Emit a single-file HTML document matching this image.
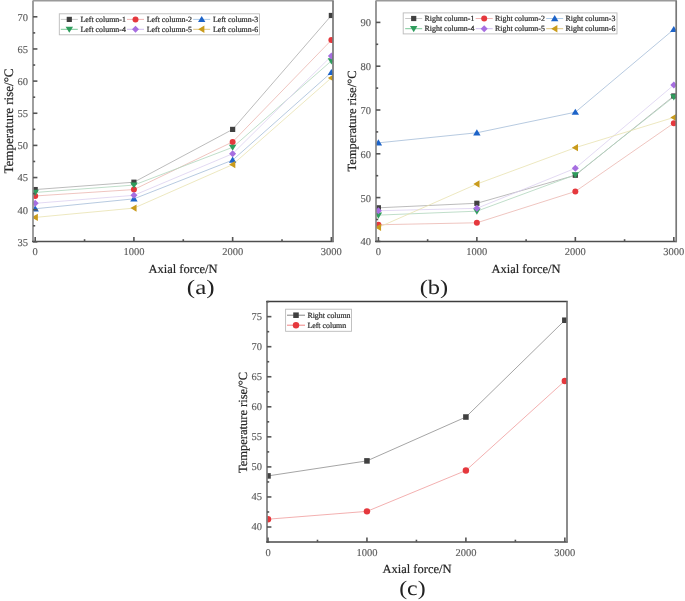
<!DOCTYPE html><html><head><meta charset="utf-8"><style>html,body{margin:0;padding:0;background:#fff;width:685px;height:601px;overflow:hidden}svg{display:block;will-change:transform}text{font-family:"Liberation Serif", serif;text-rendering:geometricPrecision}</style></head><body>
<svg width="685" height="601" viewBox="0 0 685 601">
<defs><filter id="bl" x="0" y="0" width="1" height="1"><feGaussianBlur stdDeviation="0.4"/></filter></defs>
<rect width="685" height="601" fill="#fff"/>
<g filter="url(#bl)">
<rect width="685" height="601" fill="#fff"/>
<clipPath id="ca"><rect x="33" y="0.7" width="300" height="240.7"/></clipPath>
<g clip-path="url(#ca)">
<polyline points="35.2,189.56 133.92,182.2 232.64,129.4 331.36,15.48" fill="none" stroke="#ababab" stroke-width="0.8"/>
<polyline points="35.2,195.96 133.92,189.56 232.64,141.88 331.36,40.12" fill="none" stroke="#ebb6b0" stroke-width="0.8"/>
<polyline points="35.2,208.76 133.92,198.84 232.64,160.12 331.36,72.44" fill="none" stroke="#a4bcd8" stroke-width="0.8"/>
<polyline points="35.2,192.44 133.92,185.08 232.64,147.32 331.36,60.92" fill="none" stroke="#b0d6bc" stroke-width="0.8"/>
<polyline points="35.2,203.32 133.92,195.32 232.64,153.72 331.36,56.12" fill="none" stroke="#dcd0f0" stroke-width="0.8"/>
<polyline points="35.2,217.4 133.92,208.12 232.64,164.6 331.36,77.88" fill="none" stroke="#e8e2b0" stroke-width="0.8"/>
<rect x="32.6" y="186.96" width="5.2" height="5.2" fill="#414141"/>
<rect x="131.32" y="179.6" width="5.2" height="5.2" fill="#414141"/>
<rect x="230.04" y="126.8" width="5.2" height="5.2" fill="#414141"/>
<rect x="328.76" y="12.88" width="5.2" height="5.2" fill="#414141"/>
<circle cx="35.2" cy="195.96" r="3" fill="#e5393e"/>
<circle cx="133.92" cy="189.56" r="3" fill="#e5393e"/>
<circle cx="232.64" cy="141.88" r="3" fill="#e5393e"/>
<circle cx="331.36" cy="40.12" r="3" fill="#e5393e"/>
<polygon points="35.2,205.25 38.9,211.42 31.5,211.42" fill="#1f64c8"/>
<polygon points="133.92,195.33 137.62,201.5 130.22,201.5" fill="#1f64c8"/>
<polygon points="232.64,156.6 236.34,162.78 228.94,162.78" fill="#1f64c8"/>
<polygon points="331.36,68.92 335.06,75.1 327.66,75.1" fill="#1f64c8"/>
<polygon points="35.2,195.95 38.9,189.78 31.5,189.78" fill="#2f9d5d"/>
<polygon points="133.92,188.59 137.62,182.42 130.22,182.42" fill="#2f9d5d"/>
<polygon points="232.64,150.83 236.34,144.66 228.94,144.66" fill="#2f9d5d"/>
<polygon points="331.36,64.43 335.06,58.26 327.66,58.26" fill="#2f9d5d"/>
<polygon points="35.2,199.82 38.7,203.32 35.2,206.82 31.7,203.32" fill="#a66ee0"/>
<polygon points="133.92,191.82 137.42,195.32 133.92,198.82 130.42,195.32" fill="#a66ee0"/>
<polygon points="232.64,150.22 236.14,153.72 232.64,157.22 229.14,153.72" fill="#a66ee0"/>
<polygon points="331.36,52.62 334.86,56.12 331.36,59.62 327.86,56.12" fill="#a66ee0"/>
<polygon points="31.69,217.4 37.86,213.7 37.86,221.1" fill="#c99b1c"/>
<polygon points="130.41,208.12 136.58,204.42 136.58,211.82" fill="#c99b1c"/>
<polygon points="229.12,164.6 235.3,160.9 235.3,168.3" fill="#c99b1c"/>
<polygon points="327.85,77.88 334.02,74.18 334.02,81.58" fill="#c99b1c"/>
</g>
<line x1="33" y1="0.5" x2="33" y2="242.1" stroke="#8e8e8e" stroke-width="1.7"/>
<line x1="32" y1="241.4" x2="333.7" y2="241.4" stroke="#505050" stroke-width="1.5"/>
<line x1="33" y1="0.7" x2="333.7" y2="0.7" stroke="#9a9a9a" stroke-width="1.6"/>
<line x1="333" y1="0.7" x2="333" y2="242.1" stroke="#787878" stroke-width="1.7"/>
<line x1="33" y1="241.85" x2="37.4" y2="241.85" stroke="#555" stroke-width="1.6"/>
<line x1="33" y1="209.7" x2="37.4" y2="209.7" stroke="#555" stroke-width="1.6"/>
<line x1="33" y1="177.55" x2="37.4" y2="177.55" stroke="#555" stroke-width="1.6"/>
<line x1="33" y1="145.4" x2="37.4" y2="145.4" stroke="#555" stroke-width="1.6"/>
<line x1="33" y1="113.25" x2="37.4" y2="113.25" stroke="#555" stroke-width="1.6"/>
<line x1="33" y1="81.1" x2="37.4" y2="81.1" stroke="#555" stroke-width="1.6"/>
<line x1="33" y1="48.95" x2="37.4" y2="48.95" stroke="#555" stroke-width="1.6"/>
<line x1="33" y1="16.8" x2="37.4" y2="16.8" stroke="#555" stroke-width="1.6"/>
<line x1="33" y1="225.78" x2="35.2" y2="225.78" stroke="#555" stroke-width="1.6"/>
<line x1="33" y1="193.62" x2="35.2" y2="193.62" stroke="#555" stroke-width="1.6"/>
<line x1="33" y1="161.47" x2="35.2" y2="161.47" stroke="#555" stroke-width="1.6"/>
<line x1="33" y1="129.33" x2="35.2" y2="129.33" stroke="#555" stroke-width="1.6"/>
<line x1="33" y1="97.18" x2="35.2" y2="97.18" stroke="#555" stroke-width="1.6"/>
<line x1="33" y1="65.03" x2="35.2" y2="65.03" stroke="#555" stroke-width="1.6"/>
<line x1="33" y1="32.88" x2="35.2" y2="32.88" stroke="#555" stroke-width="1.6"/>
<line x1="35.2" y1="241.4" x2="35.2" y2="237" stroke="#555" stroke-width="1.6"/>
<line x1="133.92" y1="241.4" x2="133.92" y2="237" stroke="#555" stroke-width="1.6"/>
<line x1="232.64" y1="241.4" x2="232.64" y2="237" stroke="#555" stroke-width="1.6"/>
<line x1="331.36" y1="241.4" x2="331.36" y2="237" stroke="#555" stroke-width="1.6"/>
<line x1="84.56" y1="241.4" x2="84.56" y2="239.2" stroke="#555" stroke-width="1.6"/>
<line x1="183.28" y1="241.4" x2="183.28" y2="239.2" stroke="#555" stroke-width="1.6"/>
<line x1="282" y1="241.4" x2="282" y2="239.2" stroke="#555" stroke-width="1.6"/>
<text x="28" y="245.75" text-anchor="end" font-size="10.5" fill="#5c5c5c" stroke="#5c5c5c" stroke-width="0.15">35</text>
<text x="28" y="213.6" text-anchor="end" font-size="10.5" fill="#5c5c5c" stroke="#5c5c5c" stroke-width="0.15">40</text>
<text x="28" y="181.45" text-anchor="end" font-size="10.5" fill="#5c5c5c" stroke="#5c5c5c" stroke-width="0.15">45</text>
<text x="28" y="149.3" text-anchor="end" font-size="10.5" fill="#5c5c5c" stroke="#5c5c5c" stroke-width="0.15">50</text>
<text x="28" y="117.15" text-anchor="end" font-size="10.5" fill="#5c5c5c" stroke="#5c5c5c" stroke-width="0.15">55</text>
<text x="28" y="85" text-anchor="end" font-size="10.5" fill="#5c5c5c" stroke="#5c5c5c" stroke-width="0.15">60</text>
<text x="28" y="52.85" text-anchor="end" font-size="10.5" fill="#5c5c5c" stroke="#5c5c5c" stroke-width="0.15">65</text>
<text x="28" y="20.7" text-anchor="end" font-size="10.5" fill="#5c5c5c" stroke="#5c5c5c" stroke-width="0.15">70</text>
<text x="35.2" y="255.3" text-anchor="middle" font-size="10.5" fill="#5c5c5c" stroke="#5c5c5c" stroke-width="0.15">0</text>
<text x="133.92" y="255.3" text-anchor="middle" font-size="10.5" fill="#5c5c5c" stroke="#5c5c5c" stroke-width="0.15">1000</text>
<text x="232.64" y="255.3" text-anchor="middle" font-size="10.5" fill="#5c5c5c" stroke="#5c5c5c" stroke-width="0.15">2000</text>
<text x="331.36" y="255.3" text-anchor="middle" font-size="10.5" fill="#5c5c5c" stroke="#5c5c5c" stroke-width="0.15">3000</text>
<text transform="translate(12.6,121) rotate(-90)" text-anchor="middle" font-size="13" fill="#262626" stroke="#262626" stroke-width="0.2">Temperature rise/°C</text>
<text x="183" y="272.6" text-anchor="middle" font-size="12.5" fill="#262626" stroke="#262626" stroke-width="0.2">Axial force/N</text>
<rect x="59.3" y="13.8" width="200.2" height="21" fill="#fff" stroke="#bbb" stroke-width="0.9"/>
<line x1="60.8" y1="19.4" x2="77.8" y2="19.4" stroke="#c2c2c2" stroke-width="0.9"/>
<rect x="66.7" y="16.8" width="5.2" height="5.2" fill="#414141"/>
<text x="80.5" y="22.1" font-size="7.9" fill="#303030" stroke="#303030" stroke-width="0.22">Left column-1</text>
<line x1="127" y1="19.4" x2="144" y2="19.4" stroke="#f0aaaa" stroke-width="0.9"/>
<circle cx="135.5" cy="19.4" r="3" fill="#e5393e"/>
<text x="146.7" y="22.1" font-size="7.9" fill="#303030" stroke="#303030" stroke-width="0.22">Left column-2</text>
<line x1="193.2" y1="19.4" x2="210.2" y2="19.4" stroke="#a6c6e6" stroke-width="0.9"/>
<polygon points="201.7,15.88 205.4,22.06 198,22.06" fill="#1f64c8"/>
<text x="212.9" y="22.1" font-size="7.9" fill="#303030" stroke="#303030" stroke-width="0.22">Left column-3</text>
<line x1="60.8" y1="29.3" x2="77.8" y2="29.3" stroke="#6cc28c" stroke-width="0.9"/>
<polygon points="69.3,32.81 73,26.64 65.6,26.64" fill="#2f9d5d"/>
<text x="80.5" y="32" font-size="7.9" fill="#303030" stroke="#303030" stroke-width="0.22">Left column-4</text>
<line x1="127" y1="29.3" x2="144" y2="29.3" stroke="#cbb4ee" stroke-width="0.9"/>
<polygon points="135.5,25.8 139,29.3 135.5,32.8 132,29.3" fill="#a66ee0"/>
<text x="146.7" y="32" font-size="7.9" fill="#303030" stroke="#303030" stroke-width="0.22">Left column-5</text>
<line x1="193.2" y1="29.3" x2="210.2" y2="29.3" stroke="#dcc070" stroke-width="0.9"/>
<polygon points="198.19,29.3 204.36,25.6 204.36,33" fill="#c99b1c"/>
<text x="212.9" y="32" font-size="7.9" fill="#303030" stroke="#303030" stroke-width="0.22">Left column-6</text>
<text transform="translate(200.7,294.4) scale(1.22,1)" text-anchor="middle" font-size="20.5" fill="#222" style="font-family:"Liberation Sans", sans-serif">(a)</text>
<clipPath id="cb"><rect x="376" y="0.7" width="300.2" height="240.7"/></clipPath>
<g clip-path="url(#cb)">
<polyline points="378.4,207.81 476.87,203.29 575.34,175.26 673.81,95.98" fill="none" stroke="#ababab" stroke-width="0.8"/>
<polyline points="378.4,224.76 476.87,222.78 575.34,191.47 673.81,123.14" fill="none" stroke="#ebb6b0" stroke-width="0.8"/>
<polyline points="378.4,142.85 476.87,132.78 575.34,112.19 673.81,29.41" fill="none" stroke="#a4bcd8" stroke-width="0.8"/>
<polyline points="378.4,215.12 476.87,211.18 575.34,174.82 673.81,96.86" fill="none" stroke="#b0d6bc" stroke-width="0.8"/>
<polyline points="378.4,210.74 476.87,208.33 575.34,168.25 673.81,85.03" fill="none" stroke="#dcd0f0" stroke-width="0.8"/>
<polyline points="378.4,227.38 476.87,184.02 575.34,147.67 673.81,117.45" fill="none" stroke="#e8e2b0" stroke-width="0.8"/>
<rect x="375.8" y="205.21" width="5.2" height="5.2" fill="#414141"/>
<rect x="474.27" y="200.69" width="5.2" height="5.2" fill="#414141"/>
<rect x="572.74" y="172.66" width="5.2" height="5.2" fill="#414141"/>
<rect x="671.21" y="93.38" width="5.2" height="5.2" fill="#414141"/>
<circle cx="378.4" cy="224.76" r="3" fill="#e5393e"/>
<circle cx="476.87" cy="222.78" r="3" fill="#e5393e"/>
<circle cx="575.34" cy="191.47" r="3" fill="#e5393e"/>
<circle cx="673.81" cy="123.14" r="3" fill="#e5393e"/>
<polygon points="378.4,139.34 382.1,145.51 374.7,145.51" fill="#1f64c8"/>
<polygon points="476.87,129.26 480.57,135.44 473.17,135.44" fill="#1f64c8"/>
<polygon points="575.34,108.67 579.04,114.85 571.64,114.85" fill="#1f64c8"/>
<polygon points="673.81,25.89 677.51,32.07 670.11,32.07" fill="#1f64c8"/>
<polygon points="378.4,218.63 382.1,212.46 374.7,212.46" fill="#2f9d5d"/>
<polygon points="476.87,214.69 480.57,208.51 473.17,208.51" fill="#2f9d5d"/>
<polygon points="575.34,178.34 579.04,172.16 571.64,172.16" fill="#2f9d5d"/>
<polygon points="673.81,100.38 677.51,94.2 670.11,94.2" fill="#2f9d5d"/>
<polygon points="378.4,207.24 381.9,210.74 378.4,214.24 374.9,210.74" fill="#a66ee0"/>
<polygon points="476.87,204.83 480.37,208.33 476.87,211.83 473.37,208.33" fill="#a66ee0"/>
<polygon points="575.34,164.75 578.84,168.25 575.34,171.75 571.84,168.25" fill="#a66ee0"/>
<polygon points="673.81,81.53 677.31,85.03 673.81,88.53 670.31,85.03" fill="#a66ee0"/>
<polygon points="374.88,227.38 381.06,223.68 381.06,231.08" fill="#c99b1c"/>
<polygon points="473.36,184.02 479.53,180.32 479.53,187.72" fill="#c99b1c"/>
<polygon points="571.82,147.67 578,143.97 578,151.37" fill="#c99b1c"/>
<polygon points="670.29,117.45 676.47,113.75 676.47,121.15" fill="#c99b1c"/>
</g>
<line x1="376" y1="0.5" x2="376" y2="242.1" stroke="#888" stroke-width="1.7"/>
<line x1="375" y1="241.4" x2="676.9" y2="241.4" stroke="#505050" stroke-width="1.5"/>
<line x1="376" y1="0.7" x2="676.9" y2="0.7" stroke="#9a9a9a" stroke-width="1.6"/>
<line x1="676.2" y1="0.7" x2="676.2" y2="242.1" stroke="#787878" stroke-width="1.7"/>
<line x1="376" y1="241.4" x2="380.4" y2="241.4" stroke="#555" stroke-width="1.6"/>
<line x1="376" y1="197.6" x2="380.4" y2="197.6" stroke="#555" stroke-width="1.6"/>
<line x1="376" y1="153.8" x2="380.4" y2="153.8" stroke="#555" stroke-width="1.6"/>
<line x1="376" y1="110" x2="380.4" y2="110" stroke="#555" stroke-width="1.6"/>
<line x1="376" y1="66.2" x2="380.4" y2="66.2" stroke="#555" stroke-width="1.6"/>
<line x1="376" y1="22.4" x2="380.4" y2="22.4" stroke="#555" stroke-width="1.6"/>
<line x1="376" y1="219.5" x2="378.2" y2="219.5" stroke="#555" stroke-width="1.6"/>
<line x1="376" y1="175.7" x2="378.2" y2="175.7" stroke="#555" stroke-width="1.6"/>
<line x1="376" y1="131.9" x2="378.2" y2="131.9" stroke="#555" stroke-width="1.6"/>
<line x1="376" y1="88.1" x2="378.2" y2="88.1" stroke="#555" stroke-width="1.6"/>
<line x1="376" y1="44.3" x2="378.2" y2="44.3" stroke="#555" stroke-width="1.6"/>
<line x1="378.4" y1="241.4" x2="378.4" y2="237" stroke="#555" stroke-width="1.6"/>
<line x1="476.87" y1="241.4" x2="476.87" y2="237" stroke="#555" stroke-width="1.6"/>
<line x1="575.34" y1="241.4" x2="575.34" y2="237" stroke="#555" stroke-width="1.6"/>
<line x1="673.81" y1="241.4" x2="673.81" y2="237" stroke="#555" stroke-width="1.6"/>
<line x1="427.63" y1="241.4" x2="427.63" y2="239.2" stroke="#555" stroke-width="1.6"/>
<line x1="526.11" y1="241.4" x2="526.11" y2="239.2" stroke="#555" stroke-width="1.6"/>
<line x1="624.58" y1="241.4" x2="624.58" y2="239.2" stroke="#555" stroke-width="1.6"/>
<text x="371" y="245.3" text-anchor="end" font-size="10.5" fill="#5c5c5c" stroke="#5c5c5c" stroke-width="0.15">40</text>
<text x="371" y="201.5" text-anchor="end" font-size="10.5" fill="#5c5c5c" stroke="#5c5c5c" stroke-width="0.15">50</text>
<text x="371" y="157.7" text-anchor="end" font-size="10.5" fill="#5c5c5c" stroke="#5c5c5c" stroke-width="0.15">60</text>
<text x="371" y="113.9" text-anchor="end" font-size="10.5" fill="#5c5c5c" stroke="#5c5c5c" stroke-width="0.15">70</text>
<text x="371" y="70.1" text-anchor="end" font-size="10.5" fill="#5c5c5c" stroke="#5c5c5c" stroke-width="0.15">80</text>
<text x="371" y="26.3" text-anchor="end" font-size="10.5" fill="#5c5c5c" stroke="#5c5c5c" stroke-width="0.15">90</text>
<text x="378.4" y="255.3" text-anchor="middle" font-size="10.5" fill="#5c5c5c" stroke="#5c5c5c" stroke-width="0.15">0</text>
<text x="476.87" y="255.3" text-anchor="middle" font-size="10.5" fill="#5c5c5c" stroke="#5c5c5c" stroke-width="0.15">1000</text>
<text x="575.34" y="255.3" text-anchor="middle" font-size="10.5" fill="#5c5c5c" stroke="#5c5c5c" stroke-width="0.15">2000</text>
<text x="673.81" y="255.3" text-anchor="middle" font-size="10.5" fill="#5c5c5c" stroke="#5c5c5c" stroke-width="0.15">3000</text>
<text transform="translate(355.6,121) rotate(-90)" text-anchor="middle" font-size="12.5" fill="#262626" stroke="#262626" stroke-width="0.2">Temperature rise/°C</text>
<text x="526" y="272.6" text-anchor="middle" font-size="12.5" fill="#262626" stroke="#262626" stroke-width="0.2">Axial force/N</text>
<rect x="403.2" y="12.9" width="213.8" height="21" fill="#fff" stroke="#bbb" stroke-width="0.9"/>
<line x1="405.2" y1="18.5" x2="422.2" y2="18.5" stroke="#c2c2c2" stroke-width="0.9"/>
<rect x="411.1" y="15.9" width="5.2" height="5.2" fill="#414141"/>
<text x="424.6" y="21.2" font-size="7.9" fill="#303030" stroke="#303030" stroke-width="0.22">Right column-1</text>
<line x1="475.7" y1="18.5" x2="492.7" y2="18.5" stroke="#f0aaaa" stroke-width="0.9"/>
<circle cx="484.2" cy="18.5" r="3" fill="#e5393e"/>
<text x="495.1" y="21.2" font-size="7.9" fill="#303030" stroke="#303030" stroke-width="0.22">Right column-2</text>
<line x1="546.2" y1="18.5" x2="563.2" y2="18.5" stroke="#a6c6e6" stroke-width="0.9"/>
<polygon points="554.7,14.98 558.4,21.16 551,21.16" fill="#1f64c8"/>
<text x="565.6" y="21.2" font-size="7.9" fill="#303030" stroke="#303030" stroke-width="0.22">Right column-3</text>
<line x1="405.2" y1="28.7" x2="422.2" y2="28.7" stroke="#6cc28c" stroke-width="0.9"/>
<polygon points="413.7,32.21 417.4,26.04 410,26.04" fill="#2f9d5d"/>
<text x="424.6" y="31.4" font-size="7.9" fill="#303030" stroke="#303030" stroke-width="0.22">Right column-4</text>
<line x1="475.7" y1="28.7" x2="492.7" y2="28.7" stroke="#cbb4ee" stroke-width="0.9"/>
<polygon points="484.2,25.2 487.7,28.7 484.2,32.2 480.7,28.7" fill="#a66ee0"/>
<text x="495.1" y="31.4" font-size="7.9" fill="#303030" stroke="#303030" stroke-width="0.22">Right column-5</text>
<line x1="546.2" y1="28.7" x2="563.2" y2="28.7" stroke="#dcc070" stroke-width="0.9"/>
<polygon points="551.19,28.7 557.36,25 557.36,32.4" fill="#c99b1c"/>
<text x="565.6" y="31.4" font-size="7.9" fill="#303030" stroke="#303030" stroke-width="0.22">Right column-6</text>
<text transform="translate(433.9,294.3) scale(1.19,1)" text-anchor="middle" font-size="20.5" fill="#222" style="font-family:"Liberation Sans", sans-serif">(b)</text>
<clipPath id="cc"><rect x="267" y="301.4" width="300" height="240.5"/></clipPath>
<g clip-path="url(#cc)">
<polyline points="268,475.92 366.95,460.89 465.9,417.02 564.85,320.26" fill="none" stroke="#8e8e8e" stroke-width="0.8"/>
<polyline points="268,519.19 366.95,511.37 465.9,470.51 564.85,380.96" fill="none" stroke="#f09c9c" stroke-width="0.8"/>
<rect x="265.22" y="473.13" width="5.56" height="5.56" fill="#414141"/>
<rect x="364.17" y="458.11" width="5.56" height="5.56" fill="#414141"/>
<rect x="463.12" y="414.24" width="5.56" height="5.56" fill="#414141"/>
<rect x="562.07" y="317.47" width="5.56" height="5.56" fill="#414141"/>
<circle cx="268" cy="519.19" r="3.21" fill="#e5393e"/>
<circle cx="366.95" cy="511.37" r="3.21" fill="#e5393e"/>
<circle cx="465.9" cy="470.51" r="3.21" fill="#e5393e"/>
<circle cx="564.85" cy="380.96" r="3.21" fill="#e5393e"/>
</g>
<line x1="267" y1="301.4" x2="267" y2="542.6" stroke="#7c7c7c" stroke-width="1.7"/>
<line x1="266.2" y1="541.9" x2="567.7" y2="541.9" stroke="#4a4a4a" stroke-width="1.5"/>
<line x1="266.2" y1="301.4" x2="567.7" y2="301.4" stroke="#3e3e3e" stroke-width="1.5"/>
<line x1="567" y1="301.4" x2="567" y2="542.6" stroke="#787878" stroke-width="1.7"/>
<line x1="267" y1="527" x2="271.4" y2="527" stroke="#555" stroke-width="1.6"/>
<line x1="267" y1="496.95" x2="271.4" y2="496.95" stroke="#555" stroke-width="1.6"/>
<line x1="267" y1="466.9" x2="271.4" y2="466.9" stroke="#555" stroke-width="1.6"/>
<line x1="267" y1="436.85" x2="271.4" y2="436.85" stroke="#555" stroke-width="1.6"/>
<line x1="267" y1="406.8" x2="271.4" y2="406.8" stroke="#555" stroke-width="1.6"/>
<line x1="267" y1="376.75" x2="271.4" y2="376.75" stroke="#555" stroke-width="1.6"/>
<line x1="267" y1="346.7" x2="271.4" y2="346.7" stroke="#555" stroke-width="1.6"/>
<line x1="267" y1="316.65" x2="271.4" y2="316.65" stroke="#555" stroke-width="1.6"/>
<line x1="267" y1="542.02" x2="269.2" y2="542.02" stroke="#555" stroke-width="1.6"/>
<line x1="267" y1="511.98" x2="269.2" y2="511.98" stroke="#555" stroke-width="1.6"/>
<line x1="267" y1="481.93" x2="269.2" y2="481.93" stroke="#555" stroke-width="1.6"/>
<line x1="267" y1="451.88" x2="269.2" y2="451.88" stroke="#555" stroke-width="1.6"/>
<line x1="267" y1="421.82" x2="269.2" y2="421.82" stroke="#555" stroke-width="1.6"/>
<line x1="267" y1="391.77" x2="269.2" y2="391.77" stroke="#555" stroke-width="1.6"/>
<line x1="267" y1="361.73" x2="269.2" y2="361.73" stroke="#555" stroke-width="1.6"/>
<line x1="267" y1="331.68" x2="269.2" y2="331.68" stroke="#555" stroke-width="1.6"/>
<line x1="267" y1="301.62" x2="269.2" y2="301.62" stroke="#555" stroke-width="1.6"/>
<line x1="268" y1="541.9" x2="268" y2="537.5" stroke="#555" stroke-width="1.6"/>
<line x1="366.95" y1="541.9" x2="366.95" y2="537.5" stroke="#555" stroke-width="1.6"/>
<line x1="465.9" y1="541.9" x2="465.9" y2="537.5" stroke="#555" stroke-width="1.6"/>
<line x1="564.85" y1="541.9" x2="564.85" y2="537.5" stroke="#555" stroke-width="1.6"/>
<line x1="317.48" y1="541.9" x2="317.48" y2="539.7" stroke="#555" stroke-width="1.6"/>
<line x1="416.42" y1="541.9" x2="416.42" y2="539.7" stroke="#555" stroke-width="1.6"/>
<line x1="515.38" y1="541.9" x2="515.38" y2="539.7" stroke="#555" stroke-width="1.6"/>
<text x="262" y="530.1" text-anchor="end" font-size="10.5" fill="#5c5c5c" stroke="#5c5c5c" stroke-width="0.15">40</text>
<text x="262" y="500.05" text-anchor="end" font-size="10.5" fill="#5c5c5c" stroke="#5c5c5c" stroke-width="0.15">45</text>
<text x="262" y="470" text-anchor="end" font-size="10.5" fill="#5c5c5c" stroke="#5c5c5c" stroke-width="0.15">50</text>
<text x="262" y="439.95" text-anchor="end" font-size="10.5" fill="#5c5c5c" stroke="#5c5c5c" stroke-width="0.15">55</text>
<text x="262" y="409.9" text-anchor="end" font-size="10.5" fill="#5c5c5c" stroke="#5c5c5c" stroke-width="0.15">60</text>
<text x="262" y="379.85" text-anchor="end" font-size="10.5" fill="#5c5c5c" stroke="#5c5c5c" stroke-width="0.15">65</text>
<text x="262" y="349.8" text-anchor="end" font-size="10.5" fill="#5c5c5c" stroke="#5c5c5c" stroke-width="0.15">70</text>
<text x="262" y="319.75" text-anchor="end" font-size="10.5" fill="#5c5c5c" stroke="#5c5c5c" stroke-width="0.15">75</text>
<text x="268" y="555.8" text-anchor="middle" font-size="10.5" fill="#5c5c5c" stroke="#5c5c5c" stroke-width="0.15">0</text>
<text x="366.95" y="555.8" text-anchor="middle" font-size="10.5" fill="#5c5c5c" stroke="#5c5c5c" stroke-width="0.15">1000</text>
<text x="465.9" y="555.8" text-anchor="middle" font-size="10.5" fill="#5c5c5c" stroke="#5c5c5c" stroke-width="0.15">2000</text>
<text x="564.85" y="555.8" text-anchor="middle" font-size="10.5" fill="#5c5c5c" stroke="#5c5c5c" stroke-width="0.15">3000</text>
<text transform="translate(246.6,422.5) rotate(-90)" text-anchor="middle" font-size="12.5" fill="#262626" stroke="#262626" stroke-width="0.2">Temperature rise/°C</text>
<text x="417" y="573" text-anchor="middle" font-size="12.5" fill="#262626" stroke="#262626" stroke-width="0.2">Axial force/N</text>
<rect x="285.6" y="309.2" width="65.9" height="22.1" fill="#fff" stroke="#bbb" stroke-width="0.9"/>
<line x1="287" y1="315.2" x2="305" y2="315.2" stroke="#777" stroke-width="0.9"/>
<rect x="293.22" y="312.42" width="5.56" height="5.56" fill="#414141"/>
<text x="307.4" y="317.9" font-size="7.9" fill="#303030" stroke="#303030" stroke-width="0.22">Right column</text>
<line x1="287" y1="325.2" x2="305" y2="325.2" stroke="#ee7777" stroke-width="0.9"/>
<circle cx="296" cy="325.2" r="3.21" fill="#e5393e"/>
<text x="307.4" y="327.9" font-size="7.9" fill="#303030" stroke="#303030" stroke-width="0.22">Left column</text>
<text transform="translate(412.4,594.8) scale(1.16,1)" text-anchor="middle" font-size="20.5" fill="#222" style="font-family:"Liberation Sans", sans-serif">(c)</text>
</g></svg></body></html>
